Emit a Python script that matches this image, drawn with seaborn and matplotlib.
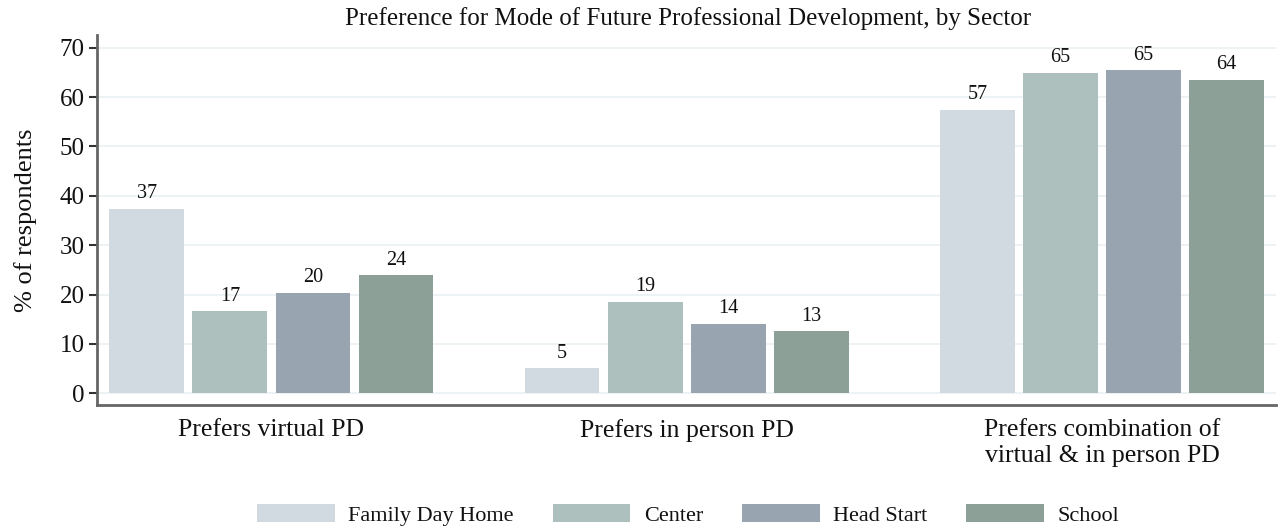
import matplotlib
matplotlib.use("Agg")
from matplotlib import pyplot as plt
import seaborn as sns
import pandas as pd

categories = ["Prefers virtual PD", "Prefers in person PD",
              "Prefers combination of\nvirtual & in person PD"]
sectors = ["Family Day Home", "Center", "Head Start", "School"]
family_day_home = [37.4, 5.1, 57.4]
center = [16.6, 18.6, 64.9]
head_start = [20.4, 14.1, 65.4]
school = [23.9, 12.6, 63.5]
colors = ["#d0dae3", "#abc3bf", "#94a5b5", "#8aa398"]

rows = []
for sector, vals in zip(sectors, [family_day_home, center, head_start, school]):
    for cat, v in zip(categories, vals):
        rows.append({"category": cat, "sector": sector, "pct": v})
df = pd.DataFrame(rows)

sns.set_style("white")
plt.rcParams["font.family"] = ["Liberation Serif", "DejaVu Serif"]
plt.rcParams["text.color"] = "#111111"
plt.rcParams["axes.labelcolor"] = "#111111"
plt.rcParams["xtick.color"] = "#111111"
plt.rcParams["ytick.color"] = "#111111"

fig, ax = plt.subplots(figsize=(12.79, 5.29), dpi=100)
fig.subplots_adjust(left=0.0758, right=0.998, top=0.934, bottom=0.234)

sns.barplot(data=df, x="category", y="pct", hue="sector", order=categories,
            hue_order=sectors, palette=colors, width=0.8, gap=0.1,
            edgecolor="none", ax=ax, zorder=3)

for cont in ax.containers:
    ax.bar_label(cont, fmt="%.0f", padding=4, fontsize=14.5)

ax.set_ylim(-2.4, 72.6)
ax.set_xlim(-0.42, 2.42)
ax.set_yticks(range(0, 71, 10))
ax.yaxis.grid(True, color="#eaf1f4", linewidth=1.2, zorder=0)
ax.xaxis.grid(False)
ax.set_xlabel("")
ax.set_ylabel("% of respondents", fontsize=19, labelpad=16)
ax.tick_params(axis="y", labelsize=18, length=6, width=1.5, color="#333333",
               left=True, pad=3)
ax.tick_params(axis="x", labelsize=18.5, length=0, pad=10)
for s in ["top", "right"]:
    ax.spines[s].set_visible(False)
for s in ["left", "bottom"]:
    ax.spines[s].set_color("#666666")
    ax.spines[s].set_linewidth(2)

fig.text(0.538, 0.965, "Preference for Mode of Future Professional Development, by Sector",
         ha="center", va="center", fontsize=18)

handles, labels = ax.get_legend_handles_labels()
ax.legend(handles, labels, loc="center", bbox_to_anchor=(0.538, 0.027),
          bbox_transform=fig.transFigure, ncol=4, frameon=False, fontsize=16,
          handlelength=3.5, handleheight=0.9, handletextpad=0.6,
          columnspacing=1.75)

fig.savefig("out.png", dpi=100)
